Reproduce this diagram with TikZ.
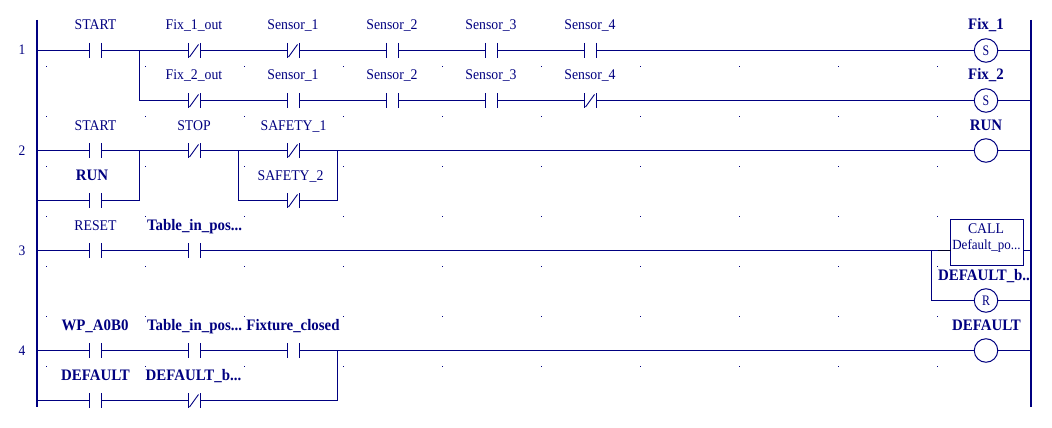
\documentclass[tikz,border=0pt]{standalone}
\usepackage{fontspec}
\setmainfont[FakeStretch=0.93]{Liberation Serif}
\definecolor{ld}{HTML}{000080}
\tikzset{
  wire/.style={draw=ld,line width=1pt},
  blackwire/.style={draw=black!70!ld,line width=1pt},
  rail/.style={draw=ld,line width=2.2pt},
  contactnode/.style={rectangle,inner sep=0pt,outer sep=0pt,minimum width=12pt,minimum height=15pt},
  coilnode/.style={circle,wire,inner sep=0pt,outer sep=0pt,minimum size=23.5pt,text=ld,font=\fontsize{14.5}{14}\selectfont},
  lab/.style={text=ld,inner sep=0pt,anchor=base,font=\fontsize{14.8}{14}\selectfont},
  blab/.style={text=ld,inner sep=0pt,anchor=base,font=\fontsize{16}{14}\selectfont\bfseries},
  num/.style={text=ld,inner sep=0pt,anchor=base,font=\fontsize{14.5}{12}\selectfont},
  callbox/.style={rectangle,wire,fill=white,inner sep=0pt,outer sep=0pt,minimum width=73pt,minimum height=45.5pt,align=center,text=ld},
}
\newcommand{\NO}[3]{%
  \node[contactnode] (#1) at (#2,#3) {};
  \draw[wire] (#1.north west) -- (#1.south west) (#1.north east) -- (#1.south east);}
\newcommand{\NC}[3]{%
  \NO{#1}{#2}{#3}
  \draw[wire,line width=.9pt] ([shift={(1,-1)}]#1.south west) -- ([shift={(-2,1.5)}]#1.north east);}
\newcommand{\coilchar}[1]{\scalebox{0.88}[1]{#1}}
\begin{document}
\begin{tikzpicture}[x=1pt,y=-1pt]
\useasboundingbox (0,0) rectangle (1052,428);
% grid dots
\foreach \yy in {66,116,166,216,266,316,366}
  \foreach \k in {0,...,9}
    \fill[ld] ({46+99*\k},\yy) rectangle ++(1,1);
% rails
\coordinate (railLtop) at (37,20);
\coordinate (railLbot) at (37,407);
\coordinate (railRtop) at (1031,20);
\coordinate (railRbot) at (1031,407);
\draw[rail] (railLtop) -- (railLbot);
\draw[rail] (railRtop) -- (railRbot);
% rung numbers
\node[num] (n1) at (22,55) {1};
\node[num] (n2) at (22,155) {2};
\node[num] (n3) at (22,255) {3};
\node[num] (n4) at (22,355) {4};
% rung 1
\NO{aa}{95.5}{50.5}
\NC{ab}{194.5}{50.5}
\NC{ac}{293.5}{50.5}
\NO{ad}{392.5}{50.5}
\NO{ae}{491.5}{50.5}
\NO{af}{590.5}{50.5}
\node[coilnode] (fixa) at (986,50.5) {\coilchar{S}};
\coordinate (la) at (37,50.5);
\coordinate (ra) at (1030,50.5);
\coordinate (ja) at (139.5,50.5);
\draw[wire] (la) -- (aa.west) (aa.east) -- (ab.west) (ab.east) -- (ac.west) (ac.east) -- (ad.west)
  (ad.east) -- (ae.west) (ae.east) -- (af.west) (af.east) -- (fixa.west) (fixa.east) -- (ra);
\NC{bb}{194.5}{100.5}
\NO{bc}{293.5}{100.5}
\NO{bd}{392.5}{100.5}
\NO{be}{491.5}{100.5}
\NC{bf}{590.5}{100.5}
\node[coilnode] (fixb) at (986,100.5) {\coilchar{S}};
\coordinate (rb) at (1030,100.5);
\draw[wire] (ja) |- (bb.west) (bb.east) -- (bc.west) (bc.east) -- (bd.west) (bd.east) -- (be.west)
  (be.east) -- (bf.west) (bf.east) -- (fixb.west) (fixb.east) -- (rb);
\node[lab] (taa) at (95.5,30) {START};
\node[lab] (tab) at (194,30) {Fix\_1\_out};
\node[lab] (tac) at (293,30) {Sensor\_1};
\node[lab] (tad) at (392,30) {Sensor\_2};
\node[lab] (tae) at (491,30) {Sensor\_3};
\node[lab] (taf) at (590,30) {Sensor\_4};
\node[blab] (tfa) at (986,30) {Fix\_1};
\node[lab] (tbb) at (194,80) {Fix\_2\_out};
\node[lab] (tbc) at (293,80) {Sensor\_1};
\node[lab] (tbd) at (392,80) {Sensor\_2};
\node[lab] (tbe) at (491,80) {Sensor\_3};
\node[lab] (tbf) at (590,80) {Sensor\_4};
\node[blab] (tfb) at (986,80) {Fix\_2};
% rung 2
\NO{ca}{95.5}{150.5}
\NC{cb}{194.5}{150.5}
\NC{cc}{293.5}{150.5}
\node[coilnode] (run) at (986,150.5) {};
\coordinate (lc) at (37,150.5);
\coordinate (rc) at (1030,150.5);
\draw[wire] (lc) -- (ca.west) (ca.east) -- (cb.west) (cb.east) -- (cc.west) (cc.east) -- (run.west) (run.east) -- (rc);
\NO{da}{95.5}{200.5}
\NC{dc}{293.5}{200.5}
\coordinate (ld) at (37,200.5);
\coordinate (jc) at (139.5,150.5);
\coordinate (jd) at (238.5,150.5);
\coordinate (je) at (337.5,150.5);
\draw[wire] (ld) -- (da.west) (da.east) -| (jc);
\draw[wire] (jd) |- (dc.west) (dc.east) -| (je);
\node[lab] (tca) at (95.5,130) {START};
\node[lab] (tcb) at (194,130) {STOP};
\node[lab] (tcc) at (293.5,130) {SAFETY\_1};
\node[blab] (trun) at (986,130) {RUN};
\node[blab] (tda) at (92,180) {RUN};
\node[lab] (tdc) at (290.5,180) {SAFETY\_2};
% rung 3
\NO{ea}{95.5}{250.5}
\NO{eb}{194.5}{250.5}
\node[callbox] (call) at (987,242.3) {};
\node[lab] (tcall) at (986,233) {CALL};
\node[lab,font=\fontsize{14}{13}\selectfont] (tcallb) at (986.5,249) {Default\_po...};
\coordinate (le) at (37,250.5);
\coordinate (re) at (1030,250.5);
\coordinate (je2) at (931.5,250.5);
\coordinate (jblk) at (937.5,250.5);
\draw[wire] (le) -- (ea.west) (ea.east) -- (eb.west) (eb.east) -- (jblk);
\draw[blackwire] (jblk) -- (call.west |- le);
\draw[wire] (call.east |- re) -- (re);
\node[coilnode] (resetc) at (986,300.5) {\coilchar{R}};
\coordinate (rf) at (1030,300.5);
\draw[wire] (je2) |- (resetc.west) (resetc.east) -- (rf);
\node[lab] (tea) at (95.5,230) {RESET};
\node[blab] (teb) at (194.5,230) {Table\_in\_pos...};
\node[blab] (tdb) at (984,280) {DEFAULT\_b..};
% rung 4
\NO{ga}{95.5}{350.5}
\NO{gb}{194.5}{350.5}
\NO{gc}{293.5}{350.5}
\node[coilnode] (dflt) at (986,350.5) {};
\coordinate (lg) at (37,350.5);
\coordinate (rg) at (1030,350.5);
\draw[wire] (lg) -- (ga.west) (ga.east) -- (gb.west) (gb.east) -- (gc.west) (gc.east) -- (dflt.west) (dflt.east) -- (rg);
\NO{ha}{95.5}{400.5}
\NC{hb}{194.5}{400.5}
\coordinate (lh) at (37,400.5);
\coordinate (jg) at (337.5,350.5);
\draw[wire] (lh) -- (ha.west) (ha.east) -- (hb.west) (hb.east) -| (jg);
\node[blab] (tga) at (95,330) {WP\_A0B0};
\node[blab] (tgb) at (194.5,330) {Table\_in\_pos...};
\node[blab] (tgc) at (293,330) {Fixture\_closed};
\node[blab] (tdf) at (986.5,330) {DEFAULT};
\node[blab] (tha) at (95.5,380) {DEFAULT};
\node[blab] (thb) at (193.5,380) {DEFAULT\_b...};
\end{tikzpicture}
\end{document}
